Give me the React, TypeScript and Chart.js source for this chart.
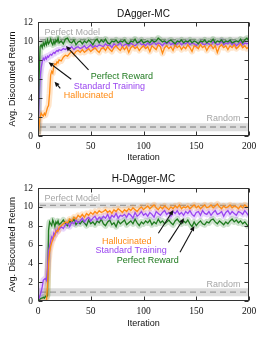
import { useEffect, useRef } from "react";
import { Chart, registerables } from "chart.js";
Chart.register(...registerables);

const SANS = "'Liberation Sans', Arial, sans-serif";
const SERIF = "'Liberation Serif', 'Times New Roman', serif";

// x domain: every iteration up to 20, then every 2 iterations
const ITERATIONS: number[] = [];
for (let i = 0; i <= 20; i++) ITERATIONS.push(i);
for (let i = 22; i <= 200; i += 2) ITERATIONS.push(i);

const X_TICKS = [0, 50, 100, 150, 200];
const Y_TICKS = [0, 2, 4, 6, 8, 10, 12];

// [low, mean, high]
const PERFECT_MODEL = [9.85, 10.15, 10.45];
const RANDOM = [0.5, 0.95, 1.35];

// ---------- DAgger-MC ----------
const MC_PERFECT_REWARD = [
  0.2, 6.0, 9.4, 9.6, 9.3, 9.8, 9.5, 9.9, 9.6, 10.1,
  9.7, 9.9, 10.2, 9.8, 9.6, 10.0, 9.7, 10.1, 9.9, 10.3, 9.8,
  10.0, 9.7, 10.2, 10.3, 9.9, 9.8, 10.1, 9.6, 9.9, 10.0,
  9.7, 10.0, 9.8, 10.1, 9.9, 9.6, 10.0, 10.2, 9.8, 10.1,
  9.9, 10.2, 9.8, 9.7, 10.0, 9.9, 10.1, 9.8, 10.0, 9.9,
  10.1, 9.8, 9.7, 10.0, 9.9, 10.2, 9.8, 9.9, 10.1, 9.8,
  9.9, 10.0, 9.8, 10.1, 9.9, 10.0, 10.3, 10.1, 9.9, 10.0,
  9.8, 10.0, 10.1, 9.9, 9.7, 10.0, 9.9, 10.1, 9.8, 10.0,
  9.9, 10.1, 9.8, 10.0, 9.9, 9.7, 10.0, 9.9, 10.1, 9.8,
  10.0, 9.9, 10.2, 9.8, 10.0, 9.9, 10.1, 9.8, 10.0, 9.9,
  10.1, 9.8, 9.9, 10.0, 9.9, 10.2, 9.8, 10.1, 10.3, 10.0,
];
const MC_STANDARD = [
  0.2, 3.5, 6.2, 7.2, 7.8, 8.2, 8.0, 8.3, 8.1, 8.4,
  8.3, 8.5, 8.6, 8.5, 8.7, 8.8, 8.7, 8.9, 9.0, 8.9, 9.1,
  9.0, 9.2, 9.1, 9.3, 9.2, 9.4, 9.1, 9.3, 9.4, 9.2,
  9.3, 9.5, 9.2, 9.4, 9.6, 9.3, 9.5, 9.4, 9.6, 9.5,
  9.4, 9.7, 9.5, 9.6, 9.3, 9.7, 9.5, 9.6, 9.8, 9.4,
  9.6, 9.7, 9.5, 9.8, 9.6, 9.5, 9.7, 9.9, 9.6, 9.7,
  9.5, 9.8, 9.6, 9.7, 9.9, 9.6, 9.8, 9.7, 9.5, 9.8,
  9.7, 9.9, 9.6, 9.8, 9.5, 9.7, 9.9, 9.6, 9.8, 9.7,
  9.9, 9.6, 9.8, 9.7, 9.5, 9.8, 9.9, 9.7, 9.6, 9.8,
  9.7, 9.5, 9.9, 9.8, 9.6, 9.7, 10.0, 9.6, 9.8, 9.7,
  9.9, 9.6, 9.8, 9.5, 9.7, 9.9, 9.6, 9.8, 9.7, 9.8,
];
const MC_HALLUCINATED = [
  0.0, 1.0, 2.0, 2.4, 2.2, 2.1, 2.4, 2.2, 2.6, 3.0,
  3.2, 4.5, 6.4, 6.8, 6.6, 7.4, 7.6, 7.5, 7.8, 7.7, 8.0,
  7.9, 8.3, 8.5, 8.4, 8.7, 8.9, 8.6, 8.9, 9.0, 8.8,
  9.1, 8.8, 9.0, 9.2, 8.9, 9.1, 9.3, 9.0, 8.8, 9.2,
  9.3, 9.0, 9.4, 9.1, 8.9, 9.3, 9.5, 9.2, 9.0, 9.4,
  9.1, 9.4, 8.8, 9.3, 9.5, 9.2, 9.4, 9.0, 9.3, 9.5,
  9.2, 9.4, 8.9, 9.5, 9.3, 9.1, 9.6, 9.4, 8.7, 9.3,
  9.5, 9.2, 9.4, 9.0, 9.6, 9.3, 9.5, 9.1, 9.4, 9.2,
  9.6, 9.3, 8.9, 9.5, 9.4, 9.2, 9.6, 9.3, 9.5, 9.0,
  9.4, 9.6, 9.2, 9.5, 8.8, 9.4, 9.6, 9.3, 9.5, 9.1,
  9.5, 9.3, 9.6, 9.2, 9.4, 9.7, 9.3, 9.5, 9.2, 9.4,
];

// ---------- H-DAgger-MC ----------
const HMC_PERFECT_REWARD = [
  0.0, 0.1, 0.2, 0.3, 0.3, 0.4, 0.3, 0.5, 0.4, 0.6,
  7.5, 8.4, 8.2, 8.0, 8.6, 8.3, 7.9, 8.4, 8.2, 8.5, 8.1,
  8.3, 8.6, 8.2, 8.0, 8.5, 8.3, 8.7, 8.1, 8.4, 8.2,
  8.5, 8.3, 8.0, 8.6, 8.2, 8.4, 8.1, 8.5, 8.3, 8.7,
  8.2, 8.0, 8.4, 8.6, 8.1, 8.3, 7.9, 8.5, 8.2, 8.4,
  8.6, 8.1, 8.3, 8.5, 8.2, 8.7, 8.3, 8.0, 8.4, 8.2,
  8.5, 8.3, 8.6, 8.1, 8.4, 8.2, 8.7, 8.3, 8.5, 8.2,
  8.4, 8.6, 8.3, 8.1, 8.5, 8.7, 8.4, 8.2, 8.5, 8.3,
  8.6, 8.2, 7.9, 8.4, 8.0, 8.3, 8.5, 8.2, 8.1, 8.4,
  8.3, 8.6, 8.7, 8.4, 8.2, 8.5, 8.3, 8.1, 8.4, 8.2,
  8.5, 8.7, 8.4, 8.6, 8.3, 8.5, 8.2, 8.4, 8.1, 7.8,
];
const HMC_STANDARD = [
  0.0, 0.3, 0.6, 1.0, 1.5, 2.2, 2.3, 2.4, 2.2, 3.5,
  5.3, 5.8, 6.3, 6.8, 6.6, 7.2, 7.0, 7.5, 7.3, 7.7, 7.6,
  7.9, 7.7, 8.1, 8.3, 7.9, 8.4, 8.2, 8.6, 8.3, 8.5,
  8.8, 8.4, 8.7, 8.9, 8.5, 8.8, 9.0, 8.6, 8.9, 8.7,
  9.0, 8.8, 9.2, 8.7, 9.1, 8.9, 9.3, 8.8, 9.1, 9.0,
  9.2, 8.9, 9.3, 9.1, 8.8, 9.4, 9.0, 9.2, 9.5, 9.1,
  9.3, 9.0, 9.4, 9.2, 8.9, 9.5, 9.3, 9.1, 9.4, 9.6,
  9.2, 9.4, 9.0, 9.5, 9.3, 9.6, 9.2, 9.4, 9.1, 9.5,
  9.3, 9.6, 9.2, 9.0, 9.4, 9.5, 9.1, 9.6, 9.3, 9.2,
  9.5, 9.1, 9.4, 9.6, 9.2, 9.3, 9.5, 9.0, 9.4, 9.6,
  9.2, 9.5, 9.3, 9.1, 9.5, 9.4, 9.2, 9.6, 9.3, 9.0,
];
const HMC_HALLUCINATED = [
  0.0, 0.0, 0.0, 0.0, 0.0, 0.0, 0.0, 0.0, 0.0, 1.5,
  4.0, 5.2, 5.8, 6.2, 6.5, 6.8, 7.0, 7.3, 7.5, 7.4, 7.8,
  8.0, 8.2, 8.4, 8.3, 8.7, 8.5, 8.9, 8.7, 9.1, 8.9,
  9.2, 8.9, 9.3, 9.1, 9.4, 9.2, 9.5, 9.3, 9.6, 9.4,
  9.5, 9.7, 9.4, 9.6, 9.3, 9.7, 9.5, 9.8, 9.6, 9.4,
  9.7, 9.5, 9.8, 9.6, 9.9, 9.7, 9.5, 9.8, 10.0, 9.7,
  9.9, 10.1, 9.8, 10.0, 10.2, 9.9, 9.7, 10.0, 9.8, 10.1,
  9.9, 9.7, 10.0, 9.8, 10.1, 9.9, 10.2, 9.8, 10.0, 9.9,
  10.1, 9.8, 10.0, 10.2, 9.9, 10.1, 9.8, 10.0, 10.2, 9.9,
  10.0, 10.2, 9.9, 10.1, 10.3, 10.0, 9.8, 10.1, 9.9, 10.0,
  10.2, 9.9, 10.1, 10.0, 9.8, 10.1, 9.9, 10.2, 10.0, 9.9,
];

const GREEN = "#1f7a1f";
const PURPLE = "#9a46f0";
const ORANGE = "#ff8a12";
const BAND_ALPHA = 0.22;

function rgba(hex: string, a: number) {
  const n = parseInt(hex.slice(1), 16);
  return `rgba(${(n >> 16) & 255},${(n >> 8) & 255},${n & 255},${a})`;
}

type Series = { label: string; color: string; values: number[]; order: number };
type Note = { text: string; color: string; x: number; y: number };
type Arrow = { x0: number; y0: number; x1: number; y1: number };
type PanelDef = {
  title: string;
  top: number;
  height: number;
  plotTop: number;
  plotBottom: number;
  titleY: number;
  xTitlePad: number;
  series: Series[];
  notes: Note[];
  arrows: Arrow[];
};

const PANELS: PanelDef[] = [
  {
    title: "DAgger-MC",
    top: 0,
    height: 168,
    plotTop: 22,
    plotBottom: 136,
    titleY: 14,
    xTitlePad: 4.6,
    series: [
      { label: "Perfect Reward", color: GREEN, values: MC_PERFECT_REWARD, order: 0 },
      { label: "Hallucinated", color: ORANGE, values: MC_HALLUCINATED, order: 1 },
      { label: "Standard Training", color: PURPLE, values: MC_STANDARD, order: 2 },
    ],
    notes: [
      { text: "Perfect Reward", color: GREEN, x: 79.5, y: 6.24 },
      { text: "Standard Training", color: PURPLE, x: 67.7, y: 5.26 },
      { text: "Hallucinated", color: ORANGE, x: 47.9, y: 4.21 },
    ],
    arrows: [
      { x0: 47.9, y0: 6.95, x1: 26.5, y1: 9.47 },
      { x0: 31.5, y0: 5.97, x1: 10.0, y1: 7.76 },
      { x0: 21.1, y0: 5.02, x1: 15.7, y1: 5.72 },
    ],
  },
  {
    title: "H-DAgger-MC",
    top: 166,
    height: 173,
    plotTop: 22,
    plotBottom: 135,
    titleY: 13,
    xTitlePad: 9.6,
    series: [
      { label: "Hallucinated", color: ORANGE, values: HMC_HALLUCINATED, order: 0 },
      { label: "Standard Training", color: PURPLE, values: HMC_STANDARD, order: 1 },
      { label: "Perfect Reward", color: GREEN, values: HMC_PERFECT_REWARD, order: 2 },
    ],
    notes: [
      { text: "Hallucinated", color: ORANGE, x: 84.2, y: 6.37 },
      { text: "Standard Training", color: PURPLE, x: 88.3, y: 5.34 },
      { text: "Perfect Reward", color: GREEN, x: 104.1, y: 4.35 },
    ],
    arrows: [
      { x0: 114.1, y0: 7.19, x1: 128.3, y1: 9.66 },
      { x0: 123.6, y0: 6.23, x1: 138.4, y1: 8.78 },
      { x0: 134.6, y0: 5.17, x1: 148.2, y1: 7.96 },
    ],
  },
];

const overlayPlugin = {
  id: "overlay",
  beforeDatasetsDraw(chart: any, _args: any, opts: any) {
    const { ctx, chartArea: a, scales } = chart;
    const y = scales.y;
    ctx.save();
    ctx.beginPath();
    ctx.rect(a.left, a.top, a.right - a.left, a.bottom - a.top);
    ctx.clip();
    for (const ref of [PERFECT_MODEL, RANDOM]) {
      const [lo, mid, hi] = ref;
      const yHi = y.getPixelForValue(hi);
      const yLo = y.getPixelForValue(lo);
      ctx.fillStyle = "#dddddd";
      ctx.fillRect(a.left, yHi, a.right - a.left, yLo - yHi);
      const ym = y.getPixelForValue(mid);
      ctx.strokeStyle = "#9b9b9b";
      ctx.lineWidth = 1.3;
      ctx.setLineDash([6, 4]);
      ctx.beginPath();
      ctx.moveTo(a.left + 2, ym);
      ctx.lineTo(a.right, ym);
      ctx.stroke();
    }
    ctx.restore();
  },
  afterDatasetsDraw(chart: any, _args: any, opts: any) {
    const { ctx, chartArea: a, scales } = chart;
    const xs = scales.x;
    const ys = scales.y;
    ctx.save();
    // reference labels
    ctx.font = `9px ${SANS}`;
    ctx.fillStyle = "#a6a6a6";
    ctx.textBaseline = "middle";
    ctx.textAlign = "left";
    ctx.fillText("Perfect Model", xs.getPixelForValue(6.2), ys.getPixelForValue(10.87));
    ctx.textAlign = "right";
    ctx.fillText("Random", xs.getPixelForValue(192), ys.getPixelForValue(1.79));
    // arrows
    ctx.strokeStyle = "#111";
    ctx.fillStyle = "#111";
    ctx.lineWidth = 1.1;
    for (const ar of opts.arrows as Arrow[]) {
      const px0 = xs.getPixelForValue(ar.x0);
      const py0 = ys.getPixelForValue(ar.y0);
      const px1 = xs.getPixelForValue(ar.x1);
      const py1 = ys.getPixelForValue(ar.y1);
      const ang = Math.atan2(py1 - py0, px1 - px0);
      const hl = 5;
      const hw = 2.3;
      const bx = px1 - hl * Math.cos(ang);
      const by = py1 - hl * Math.sin(ang);
      ctx.beginPath();
      ctx.moveTo(px0, py0);
      ctx.lineTo(bx, by);
      ctx.stroke();
      ctx.beginPath();
      ctx.moveTo(px1, py1);
      ctx.lineTo(bx + hw * Math.sin(ang), by - hw * Math.cos(ang));
      ctx.lineTo(bx - hw * Math.sin(ang), by + hw * Math.cos(ang));
      ctx.closePath();
      ctx.fill();
    }
    // series notes
    ctx.font = `9px ${SANS}`;
    ctx.textAlign = "center";
    ctx.textBaseline = "middle";
    for (const n of opts.notes as Note[]) {
      ctx.fillStyle = n.color;
      ctx.fillText(n.text, xs.getPixelForValue(n.x), ys.getPixelForValue(n.y));
    }
    // frame
    ctx.strokeStyle = "#333";
    ctx.lineWidth = 1;
    ctx.setLineDash([]);
    const L = Math.round(a.left) + 0.5;
    const R = Math.round(a.right) - 0.5;
    const T = Math.round(a.top) + 0.5;
    const B = Math.round(a.bottom) - 0.5;
    ctx.strokeRect(L, T, R - L, B - T);
    const tl = 4;
    ctx.beginPath();
    for (const v of X_TICKS) {
      const px = Math.round(xs.getPixelForValue(v)) + 0.5;
      ctx.moveTo(px, B);
      ctx.lineTo(px, B - tl);
      ctx.moveTo(px, T);
      ctx.lineTo(px, T + tl);
    }
    for (const v of Y_TICKS) {
      const py = Math.round(ys.getPixelForValue(v)) + 0.5;
      ctx.moveTo(L, py);
      ctx.lineTo(L + tl, py);
      ctx.moveTo(R, py);
      ctx.lineTo(R - tl, py);
    }
    ctx.stroke();
    // title
    ctx.font = `10px ${SANS}`;
    ctx.fillStyle = "#111";
    ctx.textAlign = "center";
    ctx.textBaseline = "middle";
    ctx.fillText(opts.title, (a.left + a.right) / 2, opts.titleY);
    ctx.restore();
  },
};

function Panel({ p }: { p: PanelDef }) {
  const ref = useRef<HTMLCanvasElement>(null);
  useEffect(() => {
    const datasets: any[] = [];
    p.series.forEach((s) => {
      datasets.push({
        label: s.label,
        data: ITERATIONS.map((x, i) => ({ x, y: s.values[i] })),
        borderColor: s.color,
        borderWidth: 1.3,
        pointRadius: 0,
        tension: 0,
        fill: false,
        order: s.order,
      });
    });
    p.series.forEach((s) => {
      datasets.push({
        label: s.label + " band",
        data: ITERATIONS.map((x, i) => ({ x, y: s.values[i] })),
        borderColor: rgba(s.color, BAND_ALPHA),
        borderWidth: 6,
        borderJoinStyle: "round",
        pointRadius: 0,
        tension: 0,
        fill: false,
        order: 10 + s.order,
      });
    });
    const chart = new Chart(ref.current as HTMLCanvasElement, {
      type: "line",
      data: { datasets },
      plugins: [overlayPlugin as any],
      options: {
        animation: false,
        responsive: false,
        layout: { padding: { top: p.plotTop, right: 17, left: 0, bottom: 0 } },
        plugins: {
          legend: { display: false },
          tooltip: { enabled: false },
          title: { display: false },
          overlay: { title: p.title, titleY: p.titleY, notes: p.notes, arrows: p.arrows },
        } as any,
        scales: {
          x: {
            type: "linear",
            min: 0,
            max: 200,
            afterBuildTicks: (s: any) => {
              s.ticks = X_TICKS.map((v) => ({ value: v }));
            },
            grid: { display: false, drawTicks: false },
            border: { display: false },
            ticks: {
              padding: 5,
              autoSkip: false,
              maxRotation: 0,
              color: "#111",
              font: { family: SERIF, size: 9.5 },
            },
            title: {
              display: true,
              text: "Iteration",
              color: "#111",
              font: { family: SANS, size: 9 },
              padding: { top: 0, bottom: p.xTitlePad },
            },
            afterFit: (s: any) => {
              s.height = p.height - p.plotBottom;
            },
          },
          y: {
            type: "linear",
            min: 0,
            max: 12,
            afterBuildTicks: (s: any) => {
              s.ticks = Y_TICKS.map((v) => ({ value: v }));
            },
            grid: { display: false, drawTicks: false },
            border: { display: false },
            ticks: {
              padding: 5,
              autoSkip: false,
              color: "#111",
              font: { family: SERIF, size: 9.5 },
            },
            title: {
              display: true,
              text: "Avg. Discounted Return",
              color: "#111",
              font: { family: SANS, size: 9 },
              padding: { top: 7.6, bottom: 0 },
            },
            afterFit: (s: any) => {
              s.width = 38;
            },
          },
        },
      } as any,
    });
    return () => chart.destroy();
  }, [p]);
  return (
    <canvas
      ref={ref}
      width={266}
      height={p.height}
      style={{ position: "absolute", left: 0, top: p.top, width: 266, height: p.height, display: "block" }}
    />
  );
}

export default function App() {
  return (
    <div style={{ position: "absolute", left: 0, top: 0, width: 266, height: 339, background: "#fff" }}>
      {PANELS.map((p) => (
        <Panel key={p.title} p={p} />
      ))}
    </div>
  );
}
